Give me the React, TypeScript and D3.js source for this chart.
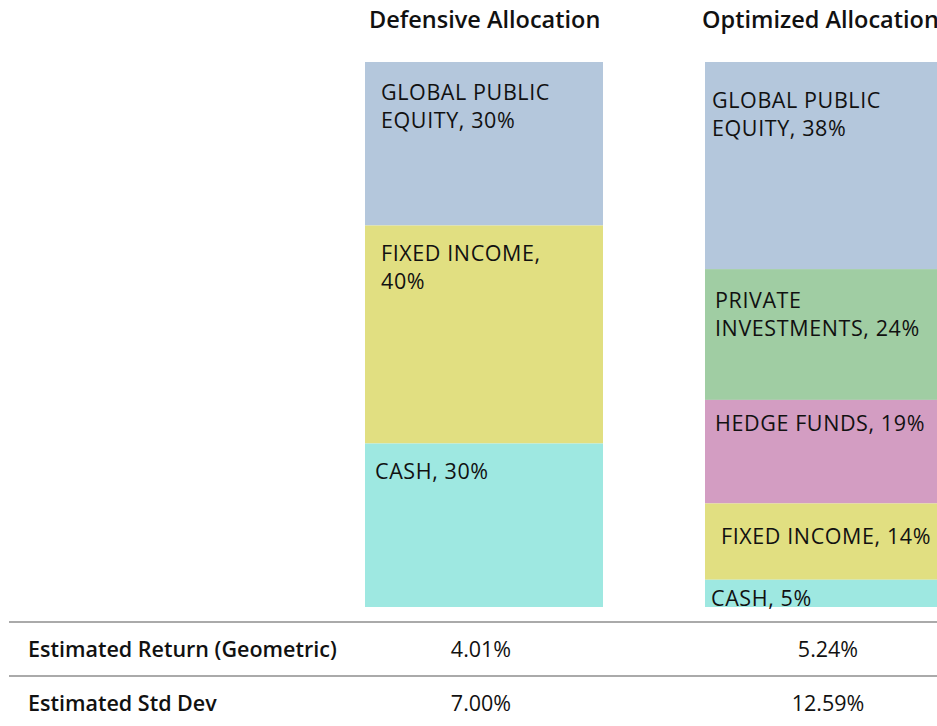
import React from "react";
import * as d3 from "d3";

const portfolios = ["Defensive Allocation", "Optimized Allocation"];
const defensiveSegments = ["GLOBAL PUBLIC EQUITY", "FIXED INCOME", "CASH"];
const defensiveValues = [30, 40, 30];
const optimizedSegments = ["GLOBAL PUBLIC EQUITY", "PRIVATE INVESTMENTS", "HEDGE FUNDS", "FIXED INCOME", "CASH"];
const optimizedValues = [38, 24, 19, 14, 5];
const defensiveLabelLines = [["GLOBAL PUBLIC", "EQUITY, 30%"], ["FIXED INCOME,", "40%"], ["CASH, 30%"]];
const optimizedLabelLines = [["GLOBAL PUBLIC", "EQUITY, 38%"], ["PRIVATE", "INVESTMENTS, 24%"], ["HEDGE FUNDS, 19%"], ["FIXED INCOME, 14%"], ["CASH, 5%"]];
const metricNames = ["Estimated Return (Geometric)", "Estimated Std Dev"];
const defensiveMetrics = ["4.01%", "7.00%"];
const optimizedMetrics = ["5.24%", "12.59%"];

const colorMap: Record<string, string> = {
  "GLOBAL PUBLIC EQUITY": "#b4c7dc",
  "FIXED INCOME": "#e1df81",
  "CASH": "#9ee8e1",
  "PRIVATE INVESTMENTS": "#a0cda3",
  "HEDGE FUNDS": "#d39dc2",
};

// label offsets (dx, first baseline dy) per segment, styling only
const defensiveLabelOffsets = [[16, 38], [16, 35], [10, 35]];
const optimizedLabelOffsets = [[7, 46], [10, 39], [10, 31], [16, 41], [6, 26]];

export default function App() {
  const W = 937, H = 726;
  const x = d3.scaleBand<string>().domain(portfolios).range([365, 943]).paddingInner(0.3).paddingOuter(0);
  const y = d3.scaleLinear().domain([0, 100]).range([62, 607]);
  const tableX = d3.scalePoint<string>().domain(portfolios).range([481, 828]);
  const titleX = d3.scalePoint<string>().domain(portfolios).range([369, 702]);

  const cols = [
    { name: portfolios[0], segs: defensiveSegments, vals: defensiveValues, labels: defensiveLabelLines, offs: defensiveLabelOffsets },
    { name: portfolios[1], segs: optimizedSegments, vals: optimizedValues, labels: optimizedLabelLines, offs: optimizedLabelOffsets },
  ];

  const labelFont = "'Open Sans', 'Noto Sans', sans-serif";
  const tableFont = "'Open Sans', 'Noto Sans', sans-serif";

  return (
    <svg width={W} height={H} style={{ position: "absolute", left: 0, top: 0, display: "block" }}>
      <rect width={W} height={H} fill="#fff" />
      {cols.map((c) => {
        const cum = d3.cumsum(c.vals);
        const bx = x(c.name)!;
        return (
          <g key={c.name}>
            <text x={titleX(c.name)} y={28} fontFamily={tableFont} fontWeight={600} fontSize={23.5} fill="#111">{c.name}</text>
            {c.segs.map((s, i) => {
              const y0 = y(cum[i] - c.vals[i]);
              const y1 = y(cum[i]);
              return (
                <g key={s}>
                  <rect x={bx} y={y0} width={x.bandwidth()} height={y1 - y0} fill={colorMap[s]} />
                  <text x={bx + c.offs[i][0]} y={y0 + c.offs[i][1]} fontFamily={labelFont} fontSize={21.5} letterSpacing={0.6} fill="#111">
                    {c.labels[i].map((l, j) => (
                      <tspan key={j} x={bx + c.offs[i][0]} dy={j === 0 ? 0 : 28}>{l}</tspan>
                    ))}
                  </text>
                </g>
              );
            })}
          </g>
        );
      })}
      {metricNames.map((m, i) => {
        const lineY = 622 + i * 54;
        const textY = lineY + 35;
        return (
          <g key={m}>
            <line x1={9} x2={W} y1={lineY} y2={lineY} stroke="#aaaaaa" strokeWidth={2.2} />
            <text x={28} y={textY} fontFamily={tableFont} fontWeight={600} fontSize={21.5} fill="#111">{m}</text>
            <text x={tableX(portfolios[0])} y={textY} textAnchor="middle" fontFamily={tableFont} fontSize={21.5} fill="#111">{defensiveMetrics[i]}</text>
            <text x={tableX(portfolios[1])} y={textY} textAnchor="middle" fontFamily={tableFont} fontSize={21.5} fill="#111">{optimizedMetrics[i]}</text>
          </g>
        );
      })}
    </svg>
  );
}
